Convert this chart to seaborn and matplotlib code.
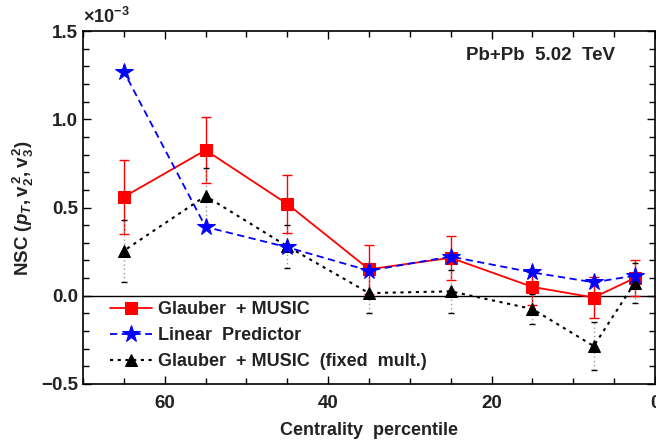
import matplotlib
matplotlib.use("Agg")
import matplotlib.pyplot as plt
import seaborn as sns
import pandas as pd
from matplotlib.ticker import MultipleLocator

# data (in units of 1e-3)
centrality = [65, 55, 45, 35, 25, 15, 7.5, 2.5]
glauber = [0.56, 0.825, 0.52, 0.15, 0.215, 0.05, -0.01, 0.10]
glauber_err = [0.21, 0.185, 0.165, 0.14, 0.125, 0.10, 0.115, 0.10]
linear = [1.27, 0.39, 0.275, 0.142, 0.222, 0.132, 0.076, 0.114]
fixed = [0.255, 0.565, 0.28, 0.015, 0.025, -0.075, -0.285, 0.072]
fixed_err = [0.175, 0.16, 0.12, 0.115, 0.12, 0.085, 0.135, 0.115]

labels = ["Glauber  + MUSIC", "Linear  Predictor", "Glauber  + MUSIC  (fixed  mult.)"]

sns.set_style("ticks")
plt.rcParams['font.family'] = ['Liberation Sans', 'DejaVu Sans']
plt.rcParams['font.weight'] = 'bold'
plt.rcParams['mathtext.fontset'] = 'custom'
plt.rcParams['mathtext.rm'] = 'Liberation Sans:bold'
plt.rcParams['mathtext.it'] = 'Liberation Sans:bold:italic'
plt.rcParams['mathtext.bf'] = 'Liberation Sans:bold'

txt = '#222222'
fig = plt.figure(figsize=(6.56, 4.46), dpi=100)
ax = fig.add_axes([83/656, 1-384/446, (655-83)/656, (384-31)/446])

df = pd.DataFrame({"x": centrality, "g": glauber, "l": linear, "f": fixed})

ax.axhline(0, color='black', lw=1.0, zorder=1)

# error bars
eb1 = ax.errorbar(centrality, glauber, yerr=glauber_err, fmt='none', ecolor='red',
                  elinewidth=1.0, capsize=3.5, capthick=1.0, zorder=2)
eb3 = ax.errorbar(centrality, fixed, yerr=fixed_err, fmt='none', ecolor='#999999',
                  elinewidth=1.0, capsize=2, capthick=1.0, zorder=2)
for lc in eb3[2]:
    lc.set_linestyle((0, (1, 2)))
for cl in eb3[1]:
    cl.set_markeredgecolor('black')

sns.lineplot(data=df, x="x", y="g", ax=ax, color='red', marker='s', markersize=8,
             markeredgecolor='red', linestyle='-', lw=1.3, label=labels[0], zorder=3)
sns.lineplot(data=df, x="x", y="l", ax=ax, color='blue', marker='*', markersize=13,
             markeredgecolor='blue', linestyle=(0, (4, 2.5)), lw=1.3, label=labels[1], zorder=4)
sns.lineplot(data=df, x="x", y="f", ax=ax, color='black', marker='^', markersize=8,
             markeredgecolor='black', linestyle=(0, (1.5, 2.2)), lw=1.5, label=labels[2], zorder=3)

ax.set_xlim(70, 0)
ax.set_ylim(-0.5, 1.5)
ax.xaxis.set_major_locator(MultipleLocator(20))
ax.xaxis.set_minor_locator(MultipleLocator(5))
ax.yaxis.set_major_locator(MultipleLocator(0.5))
ax.yaxis.set_minor_locator(MultipleLocator(0.1))
ax.yaxis.set_major_formatter(matplotlib.ticker.FuncFormatter(lambda v, p: f"{v:.1f}".replace('-', '\u2212')))
ax.tick_params(which='both', direction='in', top=True, right=True, colors='black',
               labelcolor=txt, labelsize=13.5, width=1.0)
ax.tick_params(which='major', length=6)
ax.tick_params(which='minor', length=4)
ax.tick_params(axis='x', pad=8)
for s in ax.spines.values():
    s.set_linewidth(1.2)
    s.set_color('black')

ax.set_xlabel("Centrality  percentile", fontsize=13, color=txt, fontweight='bold', labelpad=7)
ax.set_ylabel(r"NSC $(\mathit{p}_{\mathit{T}},\mathrm{v}_2^{\,2},\mathrm{v}_3^{\,2})$",
              fontsize=13.5, color=txt, fontweight='bold', labelpad=4)
ax.text(0.0, 1.012, r"$\times$10$^{-3}$", transform=ax.transAxes, fontsize=13,
        color=txt, ha='left', va='bottom')
ax.text(0.93, 0.932, "Pb+Pb  5.02  TeV", transform=ax.transAxes, fontsize=13.5,
        color=txt, ha='right', va='center', fontweight='bold')

leg = ax.legend(loc='upper left', bbox_to_anchor=(0.035, 0.255), frameon=False,
                fontsize=13, handlelength=2.3, handletextpad=0.35, labelspacing=0.5,
                borderaxespad=0)
for t in leg.get_texts():
    t.set_color(txt)
    t.set_fontweight('bold')

fig.savefig("out.png", dpi=100)
